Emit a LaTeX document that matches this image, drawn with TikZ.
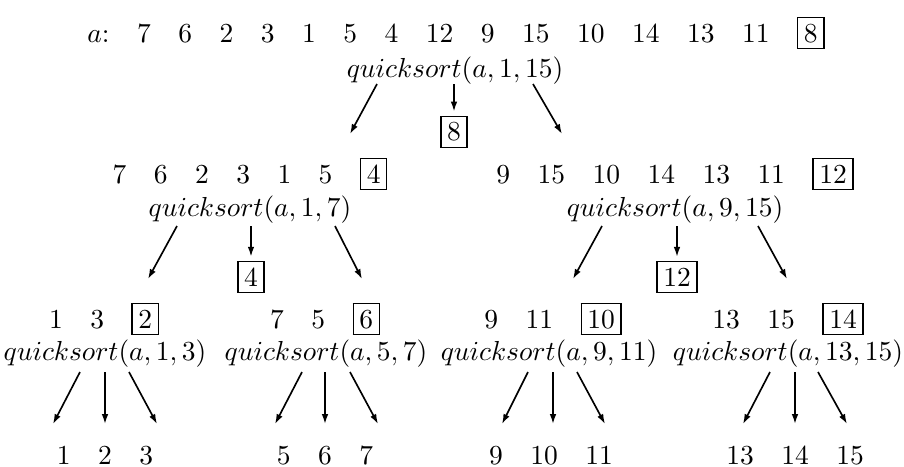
\documentclass[tikz,border=0pt]{standalone}
\usetikzlibrary{arrows.meta}
\newcommand\pv[1]{{\setlength\fboxsep{2pt}\setlength\fboxrule{0.5pt}\fbox{#1}}}
\begin{document}
\begin{tikzpicture}[x=0.36364pt,y=-0.36364pt,
  txt/.style={anchor=base,inner sep=0pt,outer sep=0pt},
  pivot/.style={inner sep=0pt,outer sep=0pt},
  arr/.style={line width=0.6pt,-{Latex[length=3.6pt,width=2.4pt]}},
  arrp/.style={arr,shorten >=1.5pt}]
\useasboundingbox (0,0) rectangle (904,466);

% ---------- level 0
\node[txt] (r0) at (456,42) {$a$:\quad 7\quad 6\quad 2\quad 3\quad 1\quad 5\quad 4\quad 12\quad 9\quad 15\quad 10\quad 14\quad 13\quad 11\quad \pv{8}};
\node[txt] (q0) at (455,77) {$quicksort(a,1,15)$};
\node[pivot] (p0) at (454,132) {\pv{8}};
\coordinate (s0a) at (377,84); \coordinate (s0b) at (454,84); \coordinate (s0c) at (533,84);
\coordinate (e0a) at (350,134); \coordinate (e0c) at (562,134);
\draw[arr] (s0a) -- (e0a);
\draw[arrp] (s0b) -- (p0);
\draw[arr] (s0c) -- (e0c);

% ---------- level 1 left
\node[txt] (r1) at (250,183) {7\quad 6\quad 2\quad 3\quad 1\quad 5\quad \pv{4}};
\node[txt] (q1) at (250,216) {$quicksort(a,1,7)$};
\node[pivot] (p1) at (251,277) {\pv{4}};
\coordinate (s1a) at (177,226); \coordinate (s1b) at (251,226); \coordinate (s1c) at (335,226);
\coordinate (e1a) at (148,279); \coordinate (e1c) at (362,279);
\draw[arr] (s1a) -- (e1a);
\draw[arrp] (s1b) -- (p1);
\draw[arr] (s1c) -- (e1c);

% ---------- level 1 right
\node[txt] (r2) at (675,183) {9\quad 15\quad 10\quad 14\quad 13\quad 11\quad \pv{12}};
\node[txt] (q2) at (675,216) {$quicksort(a,9,15)$};
\node[pivot] (p2) at (677,277) {\pv{12}};
\coordinate (s2a) at (602,226); \coordinate (s2b) at (677,226); \coordinate (s2c) at (758,226);
\coordinate (e2a) at (573,279); \coordinate (e2c) at (787,279);
\draw[arr] (s2a) -- (e2a);
\draw[arrp] (s2b) -- (p2);
\draw[arr] (s2c) -- (e2c);

% ---------- level 2
\node[txt] (r3) at (104,328) {1\quad 3\quad \pv{2}};
\node[txt] (q3) at (105,360) {$quicksort(a,1,3)$};
\node[txt] (l3) at (105,464) {1\quad 2\quad 3};
\coordinate (s3a) at (80,372); \coordinate (s3b) at (105,372); \coordinate (s3c) at (129,372);
\coordinate (e3a) at (53,424); \coordinate (e3b) at (105,424); \coordinate (e3c) at (157,424);
\draw[arr] (s3a) -- (e3a); \draw[arr] (s3b) -- (e3b); \draw[arr] (s3c) -- (e3c);

\node[txt] (r4) at (325,328) {7\quad 5\quad \pv{6}};
\node[txt] (q4) at (326,360) {$quicksort(a,5,7)$};
\node[txt] (l4) at (325,464) {5\quad 6\quad 7};
\coordinate (s4a) at (302,372); \coordinate (s4b) at (325,372); \coordinate (s4c) at (350,372);
\coordinate (e4a) at (275,424); \coordinate (e4b) at (325,424); \coordinate (e4c) at (378,424);
\draw[arr] (s4a) -- (e4a); \draw[arr] (s4b) -- (e4b); \draw[arr] (s4c) -- (e4c);

\node[txt] (r5) at (553,328) {9\quad 11\quad \pv{10}};
\node[txt] (q5) at (549,360) {$quicksort(a,9,11)$};
\node[txt] (l5) at (551,464) {9\quad 10\quad 11};
\coordinate (s5a) at (528,372); \coordinate (s5b) at (553,372); \coordinate (s5c) at (577,372);
\coordinate (e5a) at (502,424); \coordinate (e5b) at (553,424); \coordinate (e5c) at (605,424);
\draw[arr] (s5a) -- (e5a); \draw[arr] (s5b) -- (e5b); \draw[arr] (s5c) -- (e5c);

\node[txt] (r6) at (788,328) {13\quad 15\quad \pv{14}};
\node[txt] (q6) at (788,360) {$quicksort(a,13,15)$};
\node[txt] (l6) at (795,464) {13\quad 14\quad 15};
\coordinate (s6a) at (770,372); \coordinate (s6b) at (795,372); \coordinate (s6c) at (818,372);
\coordinate (e6a) at (743,424); \coordinate (e6b) at (795,424); \coordinate (e6c) at (847,424);
\draw[arr] (s6a) -- (e6a); \draw[arr] (s6b) -- (e6b); \draw[arr] (s6c) -- (e6c);
\end{tikzpicture}
\end{document}
